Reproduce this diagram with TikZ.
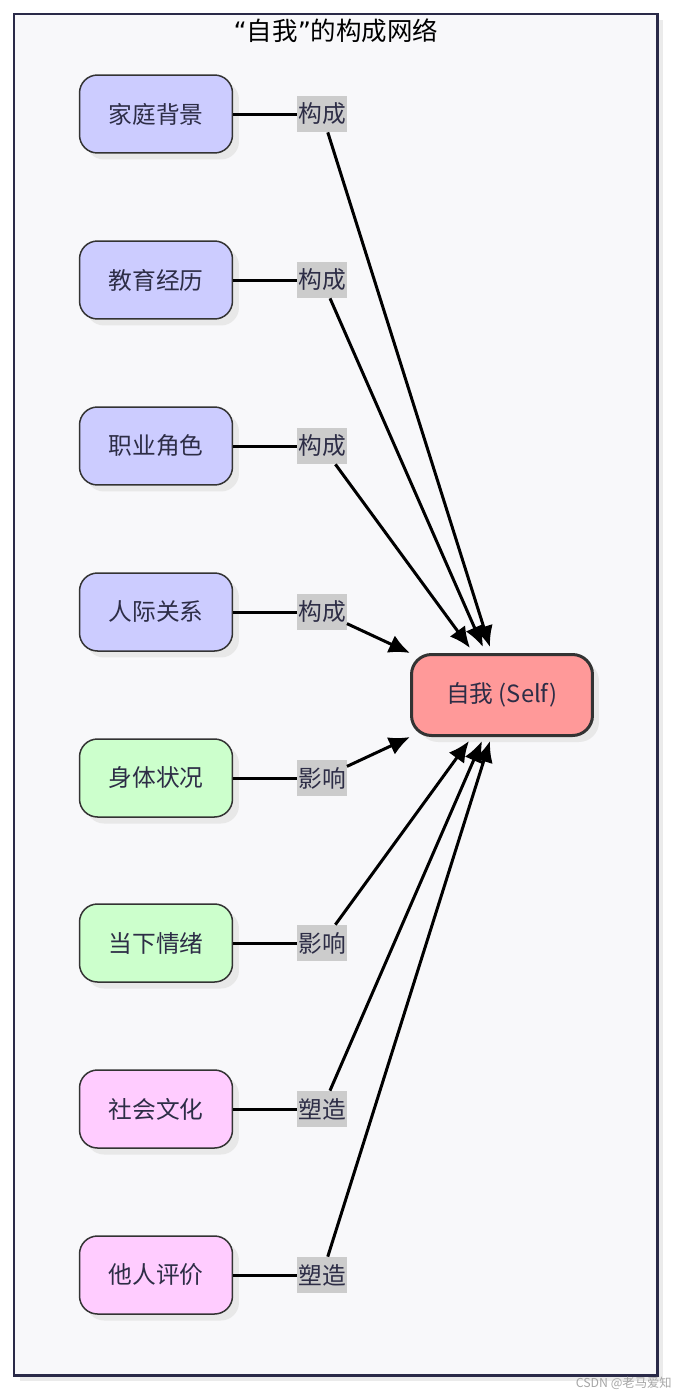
\documentclass[tikz,border=0pt]{standalone}
\usepackage{fontspec}
\setmainfont{Noto Sans CJK SC}
\newfontfamily\quotefont{DejaVu Sans}
\usetikzlibrary{positioning, arrows.meta, shadows}

\definecolor{framecol}{RGB}{42,42,72}
\definecolor{framefill}{RGB}{248,248,250}
\definecolor{txtcol}{RGB}{45,45,70}
\definecolor{bluefill}{RGB}{204,204,255}
\definecolor{greenfill}{RGB}{204,255,204}
\definecolor{pinkfill}{RGB}{255,204,255}
\definecolor{selffill}{RGB}{255,153,153}
\definecolor{tagfill}{RGB}{204,204,204}

\tikzset{
	factor/.style={rectangle, rounded corners=0.36cm, draw=black!80, line width=0.03cm,
		minimum width=3.06cm, minimum height=1.56cm, inner sep=0pt,
		font=\fontsize{13.5}{15}\selectfont, text=txtcol,
		drop shadow={shadow xshift=0.13cm, shadow yshift=-0.13cm, fill=black!9, opacity=1}},
	tag/.style={rectangle, fill=tagfill, inner xsep=0.5pt, inner ysep=0pt,
		minimum height=0.72cm, font=\fontsize{13.5}{15}\selectfont, text=txtcol},
	link/.style={line width=0.06cm, black},
	arrowlink/.style={link, -{Latex[length=0.42cm, width=0.38cm]}}
}

\begin{document}
\begin{tikzpicture}[x=0.02cm, y=-0.02cm]
					\useasboundingbox (0,0) rectangle (674,1396);
					\fill[white] (0,0) rectangle (674,1396);

					% frame
					\fill[black!8] (20,20) rectangle (663,1381);
					\draw[framecol, fill=framefill, line width=0.06cm] (14,14) rectangle (657,1375);
					\node[font=\fontsize{14.5}{16}\selectfont, text=black] (title) at (336,31) {{\quotefont\char"201C}自我{\quotefont\char"201D}的构成网络};

					% factors
					\node[factor, fill=bluefill] (family) at (156,114) {家庭背景};
					\node[factor, fill=bluefill] (edu) at (156,280) {教育经历};
					\node[factor, fill=bluefill] (job) at (156,446) {职业角色};
					\node[factor, fill=bluefill] (social) at (156,612) {人际关系};
					\node[factor, fill=greenfill] (body) at (156,778) {身体状况};
					\node[factor, fill=greenfill] (mood) at (156,943) {当下情绪};
					\node[factor, fill=pinkfill] (culture) at (156,1109) {社会文化};
					\node[factor, fill=pinkfill] (others) at (156,1275) {他人评价};

					\node[factor, fill=selffill, draw=black!80, line width=0.06cm,
						minimum width=3.62cm, minimum height=1.62cm, rounded corners=0.4cm] (self) at (502,695) {自我 (Self)};

					% edge labels
					\node[tag] (t-family) at (322,114) {构成};
					\node[tag] (t-edu) at (322,280) {构成};
					\node[tag] (t-job) at (322,446) {构成};
					\node[tag] (t-social) at (322,612) {构成};
					\node[tag] (t-body) at (322,778) {影响};
					\node[tag] (t-mood) at (322,943) {影响};
					\node[tag] (t-culture) at (322,1109) {塑造};
					\node[tag] (t-others) at (322,1275) {塑造};

					% arrow ends on self
					\coordinate (in-family) at (490,647);
					\coordinate (in-edu) at (483,647);
					\coordinate (in-job) at (470,648);
					\coordinate (in-social) at (410,653);
					\coordinate (in-body) at (410,737);
					\coordinate (in-mood) at (469,741);
					\coordinate (in-culture) at (482,741);
					\coordinate (in-others) at (490,741);

					\draw[link] (family.east) -- (t-family.west);
					\draw[link] (edu.east) -- (t-edu.west);
					\draw[link] (job.east) -- (t-job.west);
					\draw[link] (social.east) -- (t-social.west);
					\draw[link] (body.east) -- (t-body.west);
					\draw[link] (mood.east) -- (t-mood.west);
					\draw[link] (culture.east) -- (t-culture.west);
					\draw[link] (others.east) -- (t-others.west);

					\draw[arrowlink] (t-family) -- (in-family);
					\draw[arrowlink] (t-edu) -- (in-edu);
					\draw[arrowlink] (t-job) -- (in-job);
					\draw[arrowlink] (t-social) -- (in-social);
					\draw[arrowlink] (t-body) -- (in-body);
					\draw[arrowlink] (t-mood) -- (in-mood);
					\draw[arrowlink] (t-culture) -- (in-culture);
					\draw[arrowlink] (t-others) -- (in-others);

					\node[anchor=east, font=\fontsize{7}{8}\selectfont, text=black!35, inner sep=0pt] (mark) at (672,1383) {CSDN @老马爱知};
				\end{tikzpicture}
\end{document}
